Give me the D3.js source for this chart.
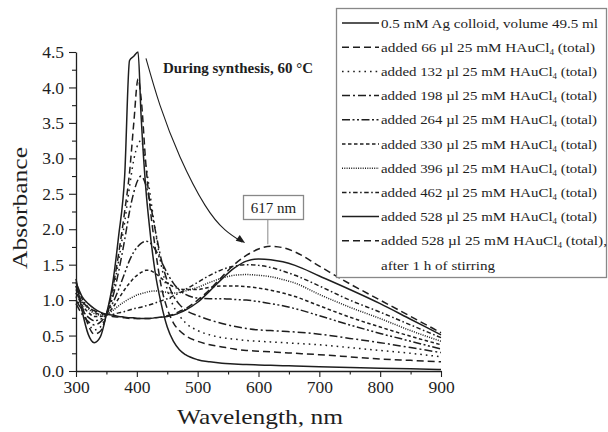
<!DOCTYPE html>
<html>
<head>
<meta charset="utf-8">
<script src="https://cdn.jsdelivr.net/npm/d3@7"></script>
<style>
  body { margin: 0; background: #fff; }
  svg { display: block; }
</style>
</head>
<body>
<script>
// wavelength grid (nm) shared by all spectra
const wavelengths = [300, 310, 320, 330, 340, 350, 360, 370, 380, 388, 395, 402, 407, 415, 420, 430, 440, 450, 460, 470, 480, 500, 520, 540, 560, 580, 600, 620, 640, 660, 700, 750, 800, 850, 900];

// absorbance values
const agColloid = [1.30, 0.85, 0.52, 0.40, 0.48, 0.80, 1.22, 1.90, 2.75, 4.38, 4.44, 4.50, 3.60, 2.55, 2.10, 1.40, 0.95, 0.62, 0.42, 0.30, 0.23, 0.16, 0.13, 0.11, 0.10, 0.09, 0.085, 0.08, 0.075, 0.07, 0.06, 0.05, 0.04, 0.03, 0.02];
const added66 = [1.20, 0.92, 0.65, 0.52, 0.56, 0.79, 1.15, 1.65, 2.25, 2.80, 3.50, 4.12, 3.85, 2.90, 2.45, 1.75, 1.20, 0.88, 0.68, 0.57, 0.50, 0.42, 0.37, 0.34, 0.31, 0.29, 0.28, 0.27, 0.26, 0.25, 0.23, 0.20, 0.17, 0.15, 0.13];
const added132 = [1.05, 0.85, 0.68, 0.58, 0.62, 0.80, 1.10, 1.55, 2.10, 2.60, 2.98, 3.20, 3.25, 2.90, 2.60, 2.00, 1.50, 1.15, 0.92, 0.78, 0.68, 0.57, 0.51, 0.47, 0.45, 0.43, 0.42, 0.41, 0.40, 0.39, 0.37, 0.33, 0.29, 0.25, 0.20];
const added198 = [0.95, 0.80, 0.70, 0.65, 0.69, 0.80, 1.03, 1.40, 1.85, 2.25, 2.52, 2.70, 2.75, 2.62, 2.45, 2.00, 1.58, 1.27, 1.06, 0.94, 0.86, 0.78, 0.72, 0.67, 0.63, 0.60, 0.58, 0.57, 0.56, 0.55, 0.52, 0.46, 0.40, 0.33, 0.26];
const added264 = [1.00, 0.86, 0.76, 0.71, 0.73, 0.80, 0.95, 1.15, 1.38, 1.56, 1.68, 1.76, 1.80, 1.83, 1.82, 1.72, 1.55, 1.38, 1.24, 1.14, 1.08, 1.03, 1.02, 1.02, 1.01, 1.00, 0.98, 0.95, 0.92, 0.88, 0.78, 0.65, 0.53, 0.42, 0.31];
const added330 = [1.10, 0.93, 0.83, 0.77, 0.77, 0.80, 0.89, 1.02, 1.15, 1.24, 1.31, 1.36, 1.39, 1.42, 1.42, 1.38, 1.31, 1.24, 1.19, 1.16, 1.15, 1.15, 1.18, 1.20, 1.20, 1.19, 1.17, 1.14, 1.10, 1.05, 0.92, 0.76, 0.62, 0.49, 0.37];
const added396 = [1.15, 0.98, 0.88, 0.81, 0.79, 0.80, 0.85, 0.92, 0.98, 1.02, 1.05, 1.08, 1.09, 1.11, 1.12, 1.13, 1.12, 1.11, 1.10, 1.11, 1.13, 1.18, 1.25, 1.31, 1.35, 1.36, 1.35, 1.33, 1.29, 1.24, 1.08, 0.90, 0.74, 0.57, 0.42];
const added462 = [1.20, 1.02, 0.90, 0.83, 0.80, 0.80, 0.80, 0.82, 0.84, 0.86, 0.88, 0.89, 0.90, 0.92, 0.93, 0.96, 0.99, 1.02, 1.06, 1.10, 1.15, 1.25, 1.35, 1.43, 1.48, 1.50, 1.49, 1.46, 1.41, 1.35, 1.20, 1.00, 0.83, 0.65, 0.47];
const added528 = [1.25, 1.05, 0.95, 0.88, 0.83, 0.80, 0.79, 0.77, 0.76, 0.75, 0.75, 0.74, 0.74, 0.74, 0.74, 0.75, 0.76, 0.77, 0.79, 0.82, 0.86, 0.97, 1.13, 1.30, 1.45, 1.55, 1.58, 1.57, 1.54, 1.49, 1.34, 1.15, 0.95, 0.73, 0.51];
const added528Stirred = [1.10, 0.98, 0.90, 0.85, 0.82, 0.79, 0.77, 0.76, 0.75, 0.74, 0.74, 0.74, 0.74, 0.74, 0.74, 0.75, 0.76, 0.78, 0.80, 0.84, 0.88, 1.00, 1.15, 1.33, 1.50, 1.63, 1.72, 1.76, 1.74, 1.68, 1.48, 1.23, 1.00, 0.77, 0.54];

// legend labels (volume of HAuCl4 added)
const addedVolumes = ["66", "132", "198", "264", "330", "396", "462", "528", "528"];

// tick values
const xTicks = [300, 400, 500, 600, 700, 800, 900];
const xMinorTicks = [350, 450, 550, 650, 750, 850];
const yTicks = [0, 0.5, 1.0, 1.5, 2.0, 2.5, 3.0, 3.5, 4.0, 4.5];
const yMinorTicks = [0.25, 0.75, 1.25, 1.75, 2.25, 2.75, 3.25, 3.75, 4.25];

// annotation arrow path, in data units (nm, absorbance)
const arrowNm = [415, 438, 471, 512, 545, 573];
const arrowAbs = [4.41, 3.75, 3.02, 2.34, 1.99, 1.82];
const peakNm = 617;

const width = 608;
const height = 432;
const ink = "#1e1e1e";
const serif = "'Liberation Serif', serif";

// line styles per series
const dashes = {
    solid: null,
    dashed: "7,4",
    dotted: "1.6,4",
    dashDot: "8,3,2,3",
    dashDotDot: "8,2.5,2,2.5,2,2.5",
    shortDash: "3.5,2.5",
    fineDot: "1,1.3",
    shortDashDot: "4.5,2.5,1.6,2.5"
};

const series = [
    { values: agColloid, dash: dashes.solid, label: "0.5 mM Ag colloid, volume 49.5 ml" },
    { values: added66, dash: dashes.dashed, vol: addedVolumes[0] },
    { values: added132, dash: dashes.dotted, vol: addedVolumes[1] },
    { values: added198, dash: dashes.dashDot, vol: addedVolumes[2] },
    { values: added264, dash: dashes.dashDotDot, vol: addedVolumes[3] },
    { values: added330, dash: dashes.shortDash, vol: addedVolumes[4] },
    { values: added396, dash: dashes.fineDot, vol: addedVolumes[5] },
    { values: added462, dash: dashes.shortDashDot, vol: addedVolumes[6] },
    { values: added528, dash: dashes.solid, vol: addedVolumes[7] },
    { values: added528Stirred, dash: dashes.dashed, vol: addedVolumes[8], stirred: true }
];

// right end of each legend text line in the reference (px)
const legendTextEnd = [598, 595, 597, 597, 597, 597, 597, 597, 597, 607];

const svg = d3.select("body")
    .append("svg")
    .attr("width", width)
    .attr("height", height);

// scales
const x = d3.scaleLinear().domain([300, 900]).range([76, 441]);
const y = d3.scaleLinear().domain([0, 4.5]).range([371, 52]);

// axes: major ticks with labels, minor ticks without
svg.append("g")
    .attr("transform", `translate(0,${y(0)})`)
    .call(d3.axisBottom(x).tickValues(xTicks).tickSize(6).tickSizeOuter(0).tickPadding(4));
svg.append("g")
    .attr("transform", `translate(0,${y(0)})`)
    .call(d3.axisBottom(x).tickValues(xMinorTicks).tickSize(3.5).tickFormat(""))
    .select(".domain").remove();

svg.append("g")
    .attr("transform", `translate(${x(300)},0)`)
    .call(d3.axisLeft(y).tickValues(yTicks).tickSize(7).tickSizeOuter(0).tickPadding(5).tickFormat(d3.format(".1f")));
svg.append("g")
    .attr("transform", `translate(${x(300)},0)`)
    .call(d3.axisLeft(y).tickValues(yMinorTicks).tickSize(4).tickFormat(""))
    .select(".domain").remove();

svg.selectAll(".domain").attr("stroke", ink).attr("stroke-width", 1.3);
svg.selectAll(".tick line").attr("stroke", ink).attr("stroke-width", 1.1);
svg.selectAll(".tick text")
    .attr("fill", ink)
    .style("font-family", serif)
    .style("font-size", "17.5px");

// axis titles
svg.append("text")
    .attr("x", 260)
    .attr("y", 424)
    .attr("text-anchor", "middle")
    .attr("textLength", 166)
    .attr("lengthAdjust", "spacingAndGlyphs")
    .style("font-family", serif)
    .style("font-size", "21px")
    .attr("fill", ink)
    .text("Wavelength, nm");

svg.append("text")
    .attr("transform", "translate(27,208) rotate(-90)")
    .attr("text-anchor", "middle")
    .attr("textLength", 122)
    .attr("lengthAdjust", "spacingAndGlyphs")
    .style("font-family", serif)
    .style("font-size", "21px")
    .attr("fill", ink)
    .text("Absorbance");

// spectra
const line = d3.line()
    .x((d, i) => x(wavelengths[i]))
    .y(d => y(d))
    .curve(d3.curveMonotoneX);

svg.append("g")
    .attr("class", "spectra")
    .selectAll("path")
    .data(series)
    .enter().append("path")
    .attr("d", d => line(d.values))
    .attr("fill", "none")
    .attr("stroke", ink)
    .attr("stroke-width", 1.5)
    .attr("stroke-dasharray", d => d.dash);

// arrow annotation
const arrowPts = arrowNm.map((n, i) => [x(n), y(arrowAbs[i])]);
svg.append("path")
    .attr("d", d3.line().curve(d3.curveNatural)(arrowPts))
    .attr("fill", "none")
    .attr("stroke", ink)
    .attr("stroke-width", 1.1);

const last = arrowPts[arrowPts.length - 1];
const prev = arrowPts[arrowPts.length - 2];
const ang = Math.atan2(last[1] - prev[1], last[0] - prev[0]) * 180 / Math.PI;
svg.append("path")
    .attr("d", "M0,0 L-9,-3.5 L-9,3.5 Z")
    .attr("transform", `translate(${last[0] + 3},${last[1] + 1}) rotate(${ang})`)
    .attr("fill", ink);

svg.append("text")
    .attr("x", x(443))
    .attr("y", y(4.2))
    .attr("textLength", 150)
    .attr("lengthAdjust", "spacingAndGlyphs")
    .style("font-family", serif)
    .style("font-size", "14px")
    .style("font-weight", "bold")
    .attr("fill", ink)
    .text("During synthesis, 60 \u00b0C");

// peak label box
const peakIdx = wavelengths.indexOf(620);
svg.append("line")
    .attr("x1", x(peakNm) - 1).attr("x2", x(peakNm) - 1)
    .attr("y1", 220)
    .attr("y2", y(added528Stirred[peakIdx]) - 2)
    .attr("stroke", "#888")
    .attr("stroke-width", 1);
svg.append("rect")
    .attr("x", 243.5).attr("y", 195.5)
    .attr("width", 60).attr("height", 24)
    .attr("fill", "#fff")
    .attr("stroke", "#888")
    .attr("stroke-width", 1.3);
svg.append("text")
    .attr("x", 273.5)
    .attr("y", 212.5)
    .attr("text-anchor", "middle")
    .style("font-family", serif)
    .style("font-size", "15px")
    .attr("fill", ink)
    .text(peakNm + " nm");

// legend
const legend = svg.append("g").attr("class", "legend");
legend.append("rect")
    .attr("x", 336.5).attr("y", 8.5)
    .attr("width", 270).attr("height", 269)
    .attr("fill", "#fff")
    .attr("stroke", "#888")
    .attr("stroke-width", 1.3);

const rowY = i => 23 + i * 24.2;
const textX = 381;

const rows = legend.selectAll("g.row")
    .data(series)
    .enter().append("g")
    .attr("class", "row");

rows.append("line")
    .attr("x1", 342).attr("x2", 379)
    .attr("y1", (d, i) => rowY(i)).attr("y2", (d, i) => rowY(i))
    .attr("stroke", ink)
    .attr("stroke-width", 1.5)
    .attr("stroke-dasharray", d => d.dash);

const labels = rows.append("text")
    .attr("x", textX)
    .attr("y", (d, i) => rowY(i) + 4.5)
    .style("font-family", serif)
    .style("font-size", "13.5px")
    .attr("fill", ink);

labels.each(function (d, i) {
    const t = d3.select(this);
    if (d.label) {
        t.text(d.label);
    } else {
        t.append("tspan").text(`added ${d.vol} \u00b5l 25 mM HAuCl`);
        t.append("tspan").attr("dy", 3).style("font-size", "8px").text("4");
        t.append("tspan").attr("dy", -3).text(d.stirred ? " (total)," : " (total)");
    }
    // stretch to the width the line has in the picture
    t.attr("textLength", legendTextEnd[i] - textX)
        .attr("lengthAdjust", "spacingAndGlyphs");
});

legend.append("text")
    .attr("x", textX)
    .attr("y", rowY(10) + 4.5)
    .attr("textLength", 495 - textX)
    .attr("lengthAdjust", "spacingAndGlyphs")
    .style("font-family", serif)
    .style("font-size", "13.5px")
    .attr("fill", ink)
    .text("after 1 h of stirring");
</script>
</body>
</html>
